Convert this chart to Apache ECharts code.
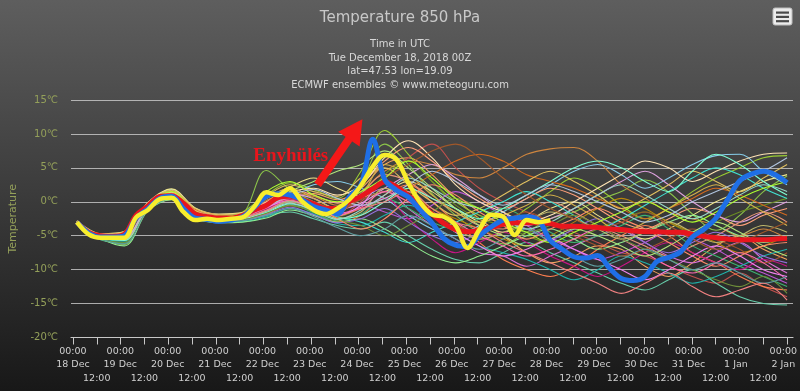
<!DOCTYPE html>
<html><head><meta charset="utf-8">
<script src="https://cdn.jsdelivr.net/npm/echarts@6/dist/echarts.min.js"></script>
<style>html,body{margin:0;padding:0;background:#1e1e1e}#c{width:800px;height:391px}</style>
</head><body><div id="c"></div>
<script>
// ---- data ----
const mainStepHours = 6;
const memberStepHours = 12;
const dayLabels = ['18 Dec','19 Dec','20 Dec','21 Dec','22 Dec','23 Dec','24 Dec','25 Dec','26 Dec','27 Dec','28 Dec','29 Dec','30 Dec','31 Dec','1 Jan','2 Jan'];
const midnightLabel = '00:00';
const noonLabel = '12:00';
const yTickValues = [-20,-15,-10,-5,0,5,10,15];

// yellow line (to 28 Dec 00Z), 6-hourly
const yellowValues = [-3.0,-4.8,-5.3,-5.3,-5.3,-2.3,-1.2,0.4,0.6,-1.5,-2.7,-2.5,-2.7,-2.5,-2.3,-0.7,1.4,1.0,2.0,0.1,-1.2,-1.8,-1.0,0.3,2.4,5.2,6.9,6.2,2.8,-0.1,-1.9,-2.2,-3.5,-6.8,-4.1,-1.9,-2.2,-4.9,-2.7,-3.0,-2.7];
// blue line, 6-hourly
const blueValues = [-3.0,-4.6,-5.2,-5.2,-5.0,-2.4,-1.0,0.5,0.8,-1.0,
 -2.4,-2.6,-2.9,-2.7,-2.2,-0.8,0.8,1.2,1.0,0.3,
 -0.7,-1.2,-1.8,0.7,2.5,9.2,3.3,1.7,0.7,-1.2,
 -3.1,-5.4,-6.4,-6.6,-5.0,-3.7,-2.7,-2.4,-2.2,-2.7,
 -5.7,-7.0,-8.1,-8.3,-7.9,-9.8,-11.3,-11.6,-11.0,-8.8,
 -8.2,-7.4,-5.2,-4.0,-2.4,0.4,3.1,4.1,4.5,4.0,
 2.8];
// red ensemble mean, 6-hourly
const meanValues = [-3.0,-4.5,-5.0,-5.1,-4.8,-2.0,-0.6,0.8,0.9,-0.2,
 -1.8,-2.2,-2.4,-2.4,-2.0,-1.2,-0.5,0.6,0.8,0.3,
 -0.3,-1.0,-1.0,0.0,0.8,1.9,2.9,2.2,0.9,-0.3,
 -1.8,-3.2,-4.1,-4.4,-4.2,-3.8,-3.3,-3.1,-3.1,-3.1,
 -3.2,-3.6,-3.6,-3.7,-3.8,-4.0,-4.1,-4.3,-4.4,-4.4,
 -4.5,-4.5,-4.8,-5.1,-5.3,-5.5,-5.6,-5.6,-5.6,-5.5,
 -5.4];

// ensemble members, 12-hourly
const member01 = [-3.1,-5.4,-6.3,-1.0,1.1,-1.6,-2.7,-1.9,4.6,1.8,0.0,-1.8,2.8,8.5,5.5,1.2,-2.0,-4.6,-6.2,-4.5,-2.5,-1.5,0.2,1.5,3.2,1.4,-1.8,-4.2,-2.0,1.5,3.8];
const member02 = [-2.9,-4.8,-4.5,-0.3,1.6,-1.2,-2.0,-2.6,-1.0,0.5,1.2,0.3,2.0,5.5,6.5,4.0,0.5,-2.5,-5.0,-7.5,-9.0,-8.0,-6.5,-7.0,-9.5,-11.0,-9.0,-6.5,-5.0,-7.0,-8.5];
const member03 = [-3.0,-5.2,-5.0,-0.8,0.6,-2.0,-2.5,-2.3,-1.5,0.0,-1.2,-2.0,0.0,3.5,6.5,8.5,5.0,2.0,0.0,-1.5,-3.0,-4.5,-6.0,-7.5,-8.0,-9.5,-11.0,-12.0,-10.5,-12.5,-14.0];
const member04 = [-3.0,-4.9,-4.6,-0.4,1.3,-1.7,-2.2,-2.1,0.2,1.3,0.8,-0.5,1.5,4.5,6.0,5.5,4.0,3.5,5.0,7.0,7.8,8.0,6.0,2.5,0.5,-1.5,-2.5,-3.5,-5.0,-4.0,-5.5];
const member05 = [-3.2,-5.6,-6.0,-1.2,0.4,-2.3,-3.0,-2.8,-2.0,-1.5,-2.5,-3.5,-4.0,-3.0,-5.0,-7.0,-8.5,-9.0,-7.5,-6.0,-7.5,-9.0,-10.5,-12.0,-13.0,-11.5,-10.0,-12.0,-14.0,-15.0,-15.2];
const member06 = [-2.9,-5.1,-4.9,-0.5,1.0,-1.9,-2.3,-2.4,-1.2,0.4,0.0,-1.4,0.5,2.0,-1.0,-3.5,-5.5,-7.5,-8.0,-9.5,-8.0,-6.5,-5.0,-4.0,-6.0,-8.0,-9.0,-7.5,-6.0,-8.5,-10.5];
const member07 = [-3.0,-5.3,-5.5,-0.7,1.4,-1.4,-2.6,-1.5,1.0,2.8,1.8,0.5,4.5,10.5,7.0,3.0,0.0,-2.0,-3.0,-1.0,1.5,3.5,2.0,-0.5,-2.5,-1.0,1.5,3.5,5.0,6.5,6.8];
const member08 = [-3.1,-5.0,-4.7,-0.2,1.8,-1.0,-2.1,-2.2,-0.8,1.0,2.5,3.0,2.0,0.5,-2.0,-4.0,-5.0,-3.5,-1.5,0.5,2.5,4.5,5.5,4.0,2.0,3.5,5.5,6.8,7.0,4.5,2.5];
const member09 = [-2.8,-4.7,-4.4,-0.1,1.9,-0.9,-1.8,-1.6,0.5,2.2,3.5,2.0,0.8,1.5,3.0,1.5,-1.0,-3.0,-4.5,-3.0,-1.0,0.0,-2.0,-4.0,-5.5,-4.0,-2.0,0.0,1.5,3.0,4.0];
const member10 = [-3.0,-5.1,-5.2,-0.9,0.7,-2.1,-2.6,-2.5,-1.8,-0.5,-1.5,-3.0,-2.0,1.0,2.5,0.0,-3.0,-6.0,-8.5,-10.0,-11.0,-9.5,-7.0,-5.0,-3.5,-5.0,-7.5,-9.0,-11.0,-12.5,-13.0];
const member11 = [-3.1,-5.5,-6.0,-1.1,0.5,-2.2,-2.9,-2.6,-1.4,0.2,-0.8,-2.2,-0.5,4.0,6.0,3.0,-0.5,-2.5,-3.5,-5.0,-6.0,-5.5,-4.0,-2.5,-1.5,-3.0,-4.5,-3.0,-1.5,-0.5,0.5];
const member12 = [-3.0,-5.0,-4.8,-0.6,0.9,-1.8,-2.4,-2.1,-0.6,0.6,-0.4,-1.2,-0.5,-1.5,-2.5,-0.5,1.5,0.0,-2.0,-3.5,-5.5,-7.0,-8.5,-7.5,-6.0,-4.5,-5.5,-7.0,-9.0,-10.5,-12.0];
const member13 = [-3.0,-5.3,-5.8,-1.0,0.8,-2.0,-2.7,-2.9,-2.2,-1.0,-1.8,-3.2,-3.5,-2.0,-0.5,-2.0,-4.5,-6.5,-7.5,-8.5,-10.0,-11.5,-10.0,-8.0,-9.0,-10.5,-12.0,-11.0,-9.5,-8.0,-7.0];
const member14 = [-2.9,-4.9,-4.5,-0.4,1.5,-1.3,-2.1,-1.8,0.0,1.8,1.0,-0.2,2.5,6.0,8.0,6.0,3.0,0.5,-1.0,0.5,2.0,1.0,-1.0,-3.0,-4.0,-2.5,-1.0,-2.0,-3.5,-2.0,-1.0];
const member15 = [-3.0,-5.2,-5.1,-0.7,0.9,-1.9,-2.4,-2.2,-1.0,0.4,-0.6,-1.5,1.0,3.0,1.5,-1.0,-2.5,-4.0,-5.5,-6.5,-5.0,-3.0,-1.0,0.5,-1.0,-3.0,-4.5,-6.0,-7.5,-6.5,-5.0];
const member16 = [-3.1,-5.4,-6.5,-1.3,0.3,-2.4,-3.1,-3.0,-2.4,-1.2,-2.0,-3.0,-2.5,-4.0,-6.0,-8.0,-9.0,-8.0,-6.5,-5.0,-4.0,-5.5,-7.0,-6.0,-4.5,-3.0,-2.0,-3.5,-5.0,-6.0,-5.0];
const member17 = [-3.0,-5.0,-4.9,-0.5,1.2,-1.6,-2.3,-2.0,-0.2,1.2,0.5,-1.0,-0.2,2.0,4.0,5.5,3.5,1.0,-1.5,-3.5,-2.5,-1.0,1.0,3.0,4.5,2.5,0.0,-2.0,-3.0,-1.5,0.0];
const member18 = [-2.9,-4.8,-4.6,-0.3,1.5,-1.1,-2.0,-2.4,-1.3,0.1,-0.9,-2.0,-1.0,0.5,2.0,4.0,6.0,7.0,6.0,4.0,3.0,2.0,0.5,-1.0,-2.5,-1.0,0.5,2.0,1.0,-0.5,-2.0];
const member19 = [-3.1,-5.5,-6.1,-1.0,0.6,-2.1,-2.8,-2.4,-1.6,-0.4,-1.6,-2.8,-1.8,0.5,-1.0,-3.0,-4.0,-2.5,-1.0,-2.5,-4.5,-6.0,-5.0,-3.5,-2.0,-4.0,-6.5,-8.0,-9.5,-11.0,-12.5];
const member20 = [-3.0,-5.1,-5.0,-0.6,1.0,-1.8,-2.5,-2.0,-0.4,0.9,-0.2,-1.1,1.2,4.0,3.0,0.5,-1.5,-3.5,-4.0,-2.0,0.0,-1.5,-3.5,-5.0,-6.5,-8.0,-6.5,-5.0,-3.0,-1.5,-3.0];
const member21 = [-3.0,-5.2,-5.3,-0.8,0.7,-2.0,-2.6,-2.4,-1.2,0.1,-0.9,-2.2,-3.0,-4.5,-6.0,-4.5,-3.0,-1.5,0.0,1.5,0.0,-2.0,-4.0,-2.5,-0.5,1.5,3.5,5.0,4.0,2.0,0.5];
const member22 = [-3.0,-5.1,-5.1,-0.7,0.8,-2.0,-2.5,-2.3,-1.1,0.3,-0.5,-1.8,-1.0,0.5,-2.5,-5.5,-7.5,-6.0,-4.5,-6.0,-8.0,-9.5,-11.0,-9.5,-7.5,-6.0,-7.5,-9.0,-10.0,-8.5,-9.5];
const member23 = [-2.9,-4.8,-4.4,-0.2,1.7,-1.0,-1.9,-1.7,0.8,2.5,1.5,0.8,3.5,5.0,2.5,0.0,-2.0,-1.0,1.0,3.0,4.5,3.0,1.0,-1.0,0.5,2.5,4.5,3.0,1.5,3.5,5.5];
const member24 = [-3.0,-5.0,-4.7,-0.5,1.1,-1.7,-2.3,-2.1,-0.7,0.7,-0.1,-1.3,0.3,1.5,0.0,-2.0,-3.5,-4.5,-3.0,-1.5,-3.0,-5.0,-6.5,-8.0,-7.0,-5.5,-4.0,-5.5,-7.0,-9.0,-7.5];
const member25 = [-3.1,-5.3,-5.6,-0.9,0.6,-2.2,-2.8,-2.7,-1.9,-0.8,-1.9,-3.1,-2.5,-1.0,-3.0,-5.0,-6.0,-4.5,-3.0,-4.0,-5.5,-4.0,-2.5,-4.0,-6.0,-7.5,-6.0,-4.5,-6.0,-8.0,-9.0];
const member26 = [-2.9,-4.9,-4.6,-0.4,1.4,-1.5,-2.2,-1.9,-0.1,1.4,2.0,1.0,2.5,6.5,9.0,6.5,2.5,0.0,-1.5,-3.0,-2.0,0.0,2.0,4.0,6.0,5.0,3.0,4.5,6.0,7.0,7.2];
const member27 = [-3.0,-5.2,-5.4,-0.8,0.8,-2.0,-2.6,-2.3,-1.3,0.0,-1.0,-2.4,-1.5,2.0,0.5,-2.0,-4.0,-5.5,-4.5,-3.0,-1.5,-2.5,-4.0,-5.5,-4.5,-3.0,-4.5,-6.0,-5.0,-3.5,-4.5];
const member28 = [-3.0,-5.1,-5.0,-0.6,0.9,-1.9,-2.4,-2.2,-0.9,0.5,-0.3,-1.7,-0.8,1.5,0.0,-1.5,-3.0,-5.0,-6.5,-8.0,-7.0,-5.5,-4.0,-5.5,-7.5,-9.5,-10.5,-9.0,-7.5,-9.0,-11.5];
const member29 = [-3.1,-5.3,-5.7,-1.0,0.7,-2.1,-2.7,-2.5,-1.6,-0.3,-1.2,-2.5,-2.0,0.0,2.0,0.5,-1.0,-2.5,-1.0,1.0,3.0,5.0,6.0,5.0,3.0,1.5,4.5,7.0,5.5,3.0,1.0];
const member30 = [-3.0,-5.4,-6.0,-1.1,0.5,-2.3,-2.9,-2.7,-1.7,-0.6,-1.4,-2.7,-3.5,-5.0,-3.5,-1.5,0.5,-1.0,-3.0,-4.5,-3.5,-2.0,-3.5,-5.5,-7.0,-8.5,-10.0,-11.5,-12.5,-11.0,-13.5];
const member31 = [-3.0,-5.2,-5.6,-0.9,0.8,-2.0,-2.6,-2.2,-0.5,1.5,3.0,4.5,5.5,7.5,5.0,2.0,-1.0,-3.5,-5.0,-6.5,-5.5,-4.0,-5.0,-6.5,-8.0,-6.5,-4.5,-3.0,-4.5,-6.5,-8.0];
const member32 = [-2.9,-4.9,-4.7,-0.4,1.3,-1.5,-2.2,-2.0,-0.6,0.8,-0.5,-2.5,-4.0,-2.5,0.5,2.5,1.0,-1.5,-3.5,-5.5,-4.0,-2.5,-1.0,-2.5,-4.0,-6.0,-8.0,-9.5,-8.0,-6.5,-6.0];
const member33 = [-3.1,-5.4,-6.2,-1.2,0.4,-2.4,-3.0,-2.8,-2.0,-1.0,-2.2,-3.8,-5.0,-4.0,-2.0,-3.5,-5.5,-7.0,-5.5,-4.0,-6.0,-8.0,-9.5,-8.5,-7.0,-8.5,-10.0,-9.0,-10.5,-12.0,-11.0];
const member34 = [-3.0,-5.0,-4.8,-0.5,1.1,-1.7,-2.3,-2.1,0.5,2.0,0.5,-1.0,1.0,5.5,4.0,1.0,-1.5,-3.0,-2.0,-0.5,1.0,-0.5,-2.5,-4.5,-3.0,-1.0,1.0,2.5,0.5,-1.5,-3.5];
const member35 = [-3.0,-5.1,-5.2,-0.7,0.8,-2.0,-2.5,-2.2,-0.8,0.2,-1.0,-2.0,-0.5,3.0,1.0,-2.0,-4.5,-6.5,-8.0,-7.0,-5.5,-7.0,-8.5,-10.0,-11.5,-10.0,-8.0,-6.5,-8.0,-10.0,-11.0];
const member36 = [-3.1,-5.3,-5.5,-0.9,0.7,-2.1,-2.7,-2.4,-1.4,-0.2,-1.3,-2.6,-1.2,1.0,3.5,2.0,0.0,-1.0,-2.5,-4.0,-3.0,-1.0,1.0,2.5,1.0,-1.0,-2.5,-1.0,1.0,2.5,1.5];
const member37 = [-3.0,-5.0,-4.9,-0.5,1.0,-1.8,-2.4,-2.0,-0.3,1.0,0.0,-1.0,0.5,3.5,5.5,7.5,8.5,6.5,3.5,1.0,-1.0,-2.5,-4.0,-3.0,-1.5,-3.5,-5.5,-7.0,-6.0,-4.5,-3.0];
const member38 = [-2.9,-5.0,-4.6,-0.3,1.5,-1.4,-2.1,-1.8,1.5,3.0,1.0,0.0,1.5,3.5,6.0,3.5,0.5,-1.0,-3.0,-4.5,-6.0,-4.5,-3.0,-1.5,0.0,-1.5,-3.0,-1.5,0.5,2.0,3.0];
const member39 = [-3.0,-5.2,-5.3,-0.8,0.7,-2.0,-2.6,-2.4,-1.3,0.2,-0.8,-2.0,-1.0,0.0,1.5,-1.0,-3.0,-4.0,-6.0,-7.5,-9.0,-10.5,-12.0,-13.5,-12.0,-10.5,-12.5,-14.0,-13.0,-12.0,-14.5];
const member40 = [-3.1,-5.2,-5.2,-0.7,1.0,-1.8,-2.5,-2.1,-0.7,0.9,1.8,0.5,-0.5,0.5,2.5,4.5,3.0,1.0,-0.5,1.0,2.5,1.5,0.0,-1.5,-3.0,-2.0,0.0,1.5,3.0,4.5,6.5];

const members = [member01,member02,member03,member04,member05,member06,member07,member08,member09,member10,
  member11,member12,member13,member14,member15,member16,member17,member18,member19,member20,
  member21,member22,member23,member24,member25,member26,member27,member28,member29,member30,
  member31,member32,member33,member34,member35,member36,member37,member38,member39,member40];
const memberColors = ['#8bc34a','#f4a460','#c0504d','#cd853f','#66cdaa','#da70d6','#9acd32','#87ceeb','#f0e68c','#ff7f50',
  '#6b8e23','#ba55d3','#20b2aa','#ffa07a','#b8860b','#90ee90','#dda0dd','#d2691e','#3cb371','#e9967a',
  '#40e0d0','#c71585','#e0c060','#a0522d','#9370db','#ffe4b5','#bdb76b','#ff69b4','#7fffd4','#6f8f3a',
  '#b0e57c','#ff8c69','#5f9ea0','#d4b04a','#ee82ee','#98d8c8','#a0582a','#adff2f','#f08080','#b0c4de'];

const annotationText = 'Enyhülés';

// ---- chart ----
function toPoints(values, step){ return values.map((v,i)=>[i*step, v]); }
const lastHour = (dayLabels.length-1)*24;

const labelColor = '#94a05a';
const axisTextColor = '#d0d0d0';
const font = "'DejaVu Sans', sans-serif";
const plotLeft = 67, plotRight = 7, plotTop = 100, plotBottom = 53.5;
const padHours = 3;
const pxPerHour = (800 - plotLeft - plotRight) / (lastHour + 2*padHours);
const padPx = padHours*pxPerHour;
const halfDayPx = 12*pxPerHour;

const series = members.map((m,i)=>({
  type:'line', data: toPoints(m, memberStepHours), smooth:0.35, symbol:'none', silent:true,
  lineStyle:{width:1.1, color:memberColors[i]}, z:2
}));
series.push({type:'line', data: toPoints(meanValues, mainStepHours), smooth:0.35, symbol:'none', silent:true,
  lineStyle:{width:5, color:'#e8161e'}, z:3});
series.push({type:'line', data: toPoints(blueValues, mainStepHours), smooth:0.35, symbol:'none', silent:true,
  lineStyle:{width:5, color:'#1f6fe5'}, z:4});
series.push({type:'line', data: toPoints(yellowValues, mainStepHours), smooth:0.35, symbol:'none', silent:true,
  lineStyle:{width:4.5, color:'#f8ee2c'}, z:5,
  markLine:{silent:true, animation:false, symbol:['none','triangle'], symbolSize:[26,24],
    lineStyle:{color:'#f41818', width:8, type:'solid', opacity:1}, label:{show:false}, emphasis:{disabled:true},
    data:[[{coord:[122,2.5]},{coord:[141.3,10.7]}]]},
  markPoint:{silent:true, animation:false,
    data:[{coord:[108.4,6.75], symbol:'rect', symbolSize:1, itemStyle:{color:'rgba(0,0,0,0)'},
      label:{show:true, position:'inside', formatter:annotationText, color:'#e8151c', fontSize:19, fontWeight:'bold', fontFamily:"'Liberation Serif', serif"}}]}
});

const hiddenY = (gi)=>({type:'value', gridIndex:gi, min:yTickValues[0], max:yTickValues[yTickValues.length-1], show:false});

const chart = echarts.init(document.getElementById('c'), null, {renderer:'canvas'});
chart.setOption({
  animation:false,
  backgroundColor: new echarts.graphic.LinearGradient(0,0,0,1,[{offset:0,color:'rgb(94,94,94)'},{offset:1,color:'rgb(24,24,24)'}]),
  title:[
    {text:'Temperature 850 hPa', left:'center', top:6, textStyle:{color:'#c8c8c8', fontSize:15, fontWeight:'normal', fontFamily:font}},
    {text:'Time in UTC\nTue December 18, 2018 00Z\nlat=47.53 lon=19.09\nECMWF ensembles © www.meteoguru.com',
     left:'center', top:33, textStyle:{color:'#d8d8d8', fontSize:10, lineHeight:13.5, fontWeight:'normal', fontFamily:font}}
  ],
  grid:[
    {left:plotLeft, right:plotRight, top:plotTop, bottom:plotBottom},
    {left:plotLeft + padPx, right:plotRight + padPx, top:plotTop, bottom:plotBottom},
    {left:plotLeft + padPx, right:plotRight + padPx, top:plotTop, bottom:plotBottom},
    {left:plotLeft + padPx + halfDayPx, right:plotRight + padPx + halfDayPx, top:plotTop, bottom:plotBottom}
  ],
  xAxis:[
    {type:'value', gridIndex:0, min:-padHours, max:lastHour+padHours, position:'bottom',
      axisLine:{show:true, onZero:false, lineStyle:{color:'#c8c8c8', width:1.2}},
      axisTick:{show:false}, axisLabel:{show:false}, splitLine:{show:false}},
    {type:'value', gridIndex:1, min:0, max:lastHour, interval:12, position:'bottom',
      axisLine:{show:false, onZero:false},
      axisTick:{show:true, length:7, lineStyle:{color:'#c8c8c8', width:1}},
      axisLabel:{show:false}, splitLine:{show:false}},
    {type:'value', gridIndex:2, min:0, max:lastHour, interval:24, position:'bottom',
      axisLine:{show:false, onZero:false}, axisTick:{show:false}, splitLine:{show:false},
      axisLabel:{color:axisTextColor, fontSize:9.5, lineHeight:13.5, margin:7, showMinLabel:true, showMaxLabel:true, fontFamily:font,
        formatter:(v)=> midnightLabel + '\n' + dayLabels[Math.round(v/24)]}},
    {type:'value', gridIndex:3, min:0, max:lastHour-24, interval:24, position:'bottom',
      axisLine:{show:false, onZero:false}, axisTick:{show:false}, splitLine:{show:false},
      axisLabel:{color:axisTextColor, fontSize:9.5, lineHeight:13.5, margin:34, showMinLabel:true, showMaxLabel:true, fontFamily:font,
        formatter:()=> noonLabel}}
  ],
  yAxis:[
    {type:'value', gridIndex:0, min:yTickValues[0], max:yTickValues[yTickValues.length-1], interval:5,
      name:'Temperature', nameLocation:'middle', nameGap:52, nameTextStyle:{color:labelColor, fontSize:11, fontFamily:font},
      axisLabel:{formatter:'{value}℃', color:labelColor, fontSize:10, margin:13, fontFamily:font},
      splitLine:{lineStyle:{color:'rgba(205,205,205,0.8)', width:1}},
      axisLine:{show:false}, axisTick:{show:false}},
    hiddenY(1), hiddenY(2), hiddenY(3)
  ],
  graphic:[
    {type:'rect', shape:{x:773, y:8, width:19, height:17, r:2}, style:{fill:'#ececec', stroke:'#bdbdbd'}},
    {type:'rect', shape:{x:776, y:11.5, width:13, height:2.2}, style:{fill:'#4a4a4a'}},
    {type:'rect', shape:{x:776, y:15.8, width:13, height:2.2}, style:{fill:'#4a4a4a'}},
    {type:'rect', shape:{x:776, y:20.1, width:13, height:2.2}, style:{fill:'#4a4a4a'}}
  ],
  series: series
});
</script></body></html>
